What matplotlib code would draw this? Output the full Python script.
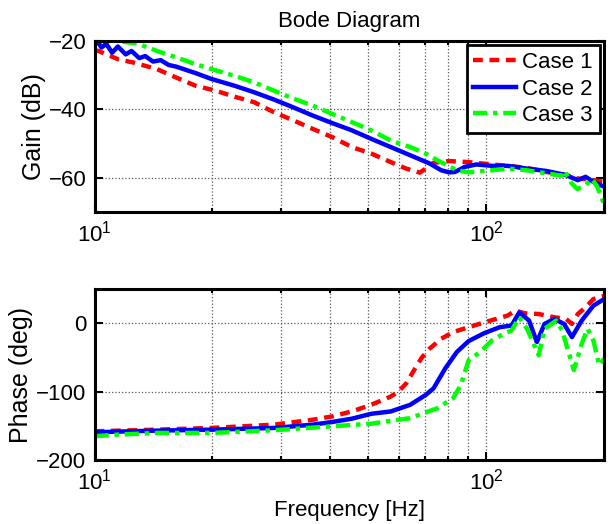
import matplotlib
matplotlib.use("Agg")
import matplotlib.pyplot as plt
from matplotlib.ticker import LogLocator, NullFormatter

plt.rcParams["font.family"] = ["Liberation Sans", "DejaVu Sans"]
plt.rcParams["font.size"] = 16

# ---- gain data ----
f_g1 = [10, 10.23, 11.47, 12.57, 14.43, 16.18, 18.14, 20.35, 22.81, 25.58, 28.69, 32.18,
        36.08, 40.46, 45.37, 50.87, 57.05, 62.5, 67.7, 70.1, 73.4, 80.4, 90.2, 101.2,
        113.4, 127.2, 142.6, 160, 171.4, 183.6, 200]
g1 = [-22.7, -22.9, -25.3, -26.3, -28.2, -30.7, -33.1, -34.5, -36.3, -37.9, -40.8, -43.2,
      -45.7, -48.1, -51.0, -52.9, -55.4, -57.3, -58.5, -57.3, -55.6, -55.1, -55.4, -56.0,
      -56.5, -57.1, -58.3, -59.2, -60.2, -60.5, -61.2]

f_g2 = [10, 10.23, 10.42, 10.71, 11.09, 11.47, 12.01, 12.43, 13.01, 13.47, 14.1, 14.76,
        15.46, 16.18, 18.14, 19.89, 22.81, 25.58, 28.69, 32.18, 36.08, 40.46, 45.37, 50.87,
        57.05, 63.97, 71.7, 76.8, 80.4, 83.2, 88.2, 94.4, 103.5, 113.4, 127.2, 142.6, 160,
        171.4, 179.4, 187.8, 200]
g2 = [-21.0, -20.5, -21.9, -20.8, -23.4, -21.6, -23.9, -22.9, -25.0, -24.4, -26.0, -25.6,
      -27.0, -27.5, -29.4, -31.1, -33.1, -35.0, -37.1, -39.4, -41.8, -44.0, -46.1, -48.6,
      -51.0, -53.4, -55.8, -57.8, -58.4, -58.3, -56.8, -56.1, -56.5, -56.5, -57.3, -58.0,
      -59.2, -60.7, -59.7, -61.2, -62.6]

f_g3 = [10, 11.74, 12.86, 14.43, 16.18, 18.14, 19.89, 22.81, 25.58, 28.69, 32.18, 36.08,
        40.46, 45.37, 50.87, 57.05, 63.97, 70.1, 75.1, 80.4, 84.2, 90.2, 96.6, 103.5, 113.4,
        127.2, 142.6, 156.3, 158.4, 165, 171, 180, 186, 192, 200]
g3 = [-17.0, -20.2, -20.7, -22.9, -24.8, -26.8, -28.2, -30.2, -32.1, -34.5, -36.8, -38.9,
      -41.3, -43.7, -46.1, -49.1, -51.0, -52.9, -54.9, -56.6, -57.8, -58.4, -58.1, -57.8,
      -57.3, -57.8, -58.7, -59.4, -57.9, -61.5, -63.3, -62.0, -60.3, -62.5, -67.7]

# ---- phase data ----
f_p1 = [10, 14.43, 19.89, 28.69, 36.08, 40.46, 45.37, 50.87, 57.05, 59.7, 62.5, 65.46, 68.5,
        71.7, 76.8, 82.3, 90.2, 101.2, 113.4, 118.7, 125.7, 136.2, 149.3, 160, 165.6, 171.4,
        179.4, 187.8, 200]
p1 = [-158, -155.6, -153.1, -148.3, -141.1, -136.2, -129, -119.3, -107.2, -100, -87.9, -68.6,
      -50.2, -37.2, -22.7, -13, -5.8, 2.9, 11.1, 18.4, 14.5, 13.5, 8.7, 6.3, -1, 13.5, 23.2,
      35.3, 40.1]

f_p2 = [10, 14.43, 19.89, 28.69, 36.08, 40.46, 45.37, 50.87, 57.05, 63.97, 70.1, 73.4, 78.6,
        84.2, 90.2, 98.9, 108.3, 116.1, 121.5, 128.7, 134.7, 141, 149.3, 158.1, 165.6, 175.4,
        187.8, 200]
p2 = [-159.4, -157, -155.6, -153.1, -148.3, -144.4, -139.6, -132.4, -129, -119.3, -104.8,
      -95.2, -66.2, -42, -26.1, -14.5, -5.8, -3.4, 15.9, 3.9, -27.5, -1, 6.3, -1, -20.3, 3.9,
      25.6, 35.3]

f_p3 = [10, 11.47, 14.43, 19.89, 28.69, 40.46, 50.87, 63.97, 75.1, 82.3, 86.2, 90.2, 96.6,
        103.5, 110.9, 116.1, 121.5, 127.2, 136.2, 141, 151, 156.3, 163.7, 167.5, 175.4, 181.5,
        187.8, 194.4, 200]
p3 = [-165.2, -162.8, -160.4, -160.4, -156.5, -150.7, -146.9, -138.7, -124.2, -109.7, -90.3,
      -54.1, -42, -25.1, -15.5, -10.6, 8.7, -8.2, -46.9, -8.2, 3.9, -10.6, -49.3, -68.6, -30,
      -8.2, -25.1, -61.4, -51.7]

labels = ["Case 1", "Case 2", "Case 3"]
colors = ["#ff0000", "#0000ff", "#00ff00"]
dashes = [(2.2, 1.5), (), (3.2, 1.3, 1.0, 1.3)]

fig = plt.figure(figsize=(6.11, 5.24), dpi=100)
ax1 = fig.add_axes([0.1547, 0.5954, 0.8339, 0.3263])
ax2 = fig.add_axes([0.1547, 0.1221, 0.8339, 0.3263])

for f, v, lab, c, d in zip([f_g1, f_g2, f_g3], [g1, g2, g3], labels, colors, dashes):
    ln, = ax1.semilogx(f, v, color=c, lw=3.2, label=lab)
    if d:
        ln.set_dashes(d)
for f, v, c, d in zip([f_p1, f_p2, f_p3], [p1, p2, p3], colors, dashes):
    ln, = ax2.semilogx(f, v, color=c, lw=3.2)
    if d:
        ln.set_dashes(d)

for ax in (ax1, ax2):
    ax.set_xlim(10, 200)
    ax.xaxis.set_minor_locator(LogLocator(base=10, subs=range(2, 10)))
    ax.xaxis.set_minor_formatter(NullFormatter())
    ax.grid(True, which="major", ls=":", color="0.35", lw=0.9)
    ax.grid(True, which="minor", axis="x", ls=":", color="0.35", lw=0.9)
    ax.tick_params(which="both", direction="in", top=True, right=True, width=1.5)
    ax.tick_params(which="major", length=6, labelsize=16, pad=6)
    ax.tick_params(which="minor", length=3)
    for s in ax.spines.values():
        s.set_linewidth(2.2)

ax1.set_ylim(-70, -20)
ax1.set_yticks([-60, -40, -20])
ax1.set_ylabel("Gain (dB)", fontsize=18, labelpad=2)
ax1.set_title("Bode Diagram", fontsize=16, pad=10)
leg = ax1.legend(loc="upper right", fontsize=16, handlelength=1.9, handletextpad=0.3,
                 labelspacing=0.25, borderpad=0.3, borderaxespad=0.2, fancybox=False,
                 framealpha=1, edgecolor="black")
leg.get_frame().set_linewidth(2)

ax2.set_ylim(-200, 50)
ax2.set_yticks([-200, -100, 0])
ax2.set_ylabel("Phase (deg)", fontsize=18, labelpad=2)
ax2.set_xlabel("Frequency [Hz]", labelpad=4)

fig.savefig("out.png", dpi=100)
